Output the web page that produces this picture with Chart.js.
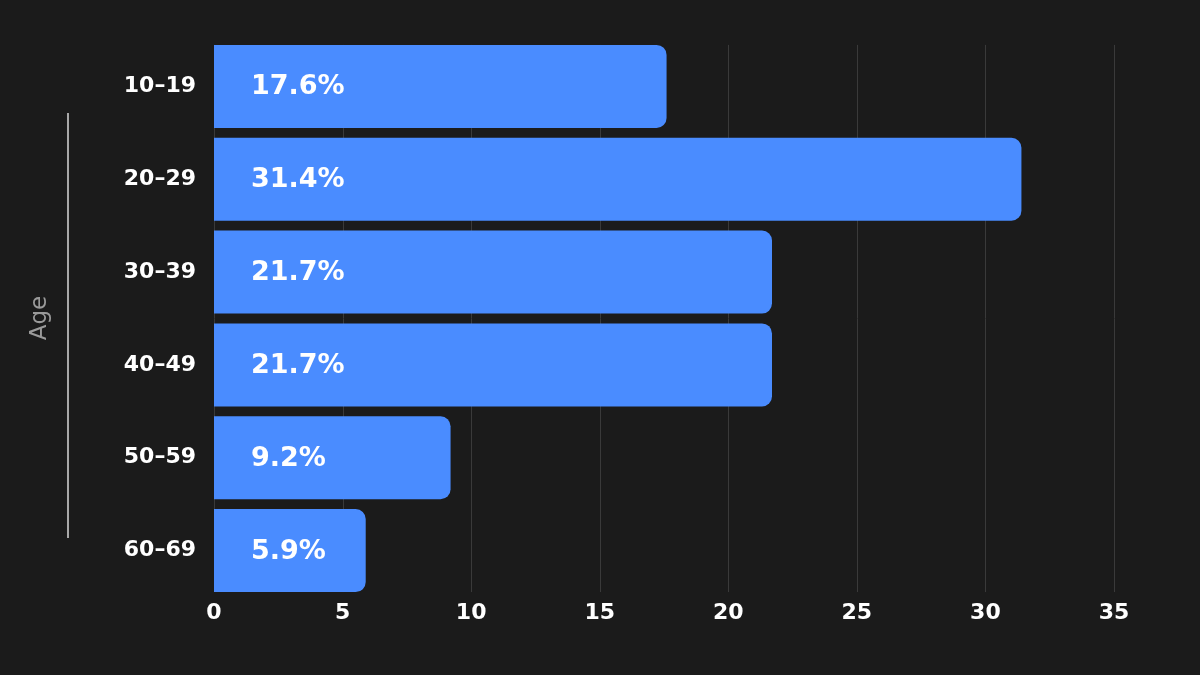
<!DOCTYPE html>
<html>
<head>
<meta charset="utf-8">
<script src="https://cdn.jsdelivr.net/npm/chart.js@4"></script>
<style>
  html, body { margin: 0; padding: 0; background: #1b1b1b; }
  #wrap { width: 1200px; height: 675px; }
</style>
</head>
<body>
<div id="wrap"><canvas id="age-canvas" width="1200" height="675"></canvas></div>
<script>
const ageGroups = ['10–19', '20–29', '30–39', '40–49', '50–59', '60–69']
const shares = [17.6, 31.4, 21.7, 21.7, 9.2, 5.9]
const xTicks = [0, 5, 10, 15, 20, 25, 30, 35]

const FONT = '"DejaVu Sans", sans-serif'

// vertical grid lines that stop at the first and last bar edge
const gridLines = {
  id: 'gridLines',
  beforeDatasetsDraw(chart) {
    const ctx = chart.ctx
    const area = chart.chartArea
    const x = chart.scales.x
    const meta = chart.getDatasetMeta(0)
    const top = meta.data[0].y - meta.data[0].height / 2
    const last = meta.data[meta.data.length - 1]
    const bottom = last.y + last.height / 2
    ctx.save()
    ctx.strokeStyle = '#3a3a3a'
    ctx.lineWidth = 1
    xTicks.forEach(v => {
      const px = Math.round(x.getPixelForValue(v)) + 0.5
      ctx.beginPath()
      ctx.moveTo(px, top)
      ctx.lineTo(px, bottom)
      ctx.stroke()
    })
    ctx.restore()
  }
}

// percent text inside each bar + the "Age" title with its line
const barLabels = {
  id: 'barLabels',
  afterDatasetsDraw(chart) {
    const ctx = chart.ctx
    const meta = chart.getDatasetMeta(0)
    ctx.save()
    ctx.fillStyle = '#ffffff'
    ctx.font = '700 27px ' + FONT
    ctx.textAlign = 'left'
    ctx.textBaseline = 'middle'
    meta.data.forEach((bar, i) => {
      ctx.fillText(shares[i].toFixed(1) + '%', bar.base + 37, bar.y + 1)
    })
    ctx.restore()
  },
  afterDraw(chart) {
    const ctx = chart.ctx
    const area = chart.chartArea
    ctx.save()
    ctx.strokeStyle = '#a8a8a8'
    ctx.lineWidth = 2
    ctx.beginPath()
    ctx.moveTo(68, 113)
    ctx.lineTo(68, 538)
    ctx.stroke()
    ctx.translate(40, 318)
    ctx.rotate(-Math.PI / 2)
    ctx.fillStyle = '#9a9a9a'
    ctx.font = '400 23px ' + FONT
    ctx.textAlign = 'center'
    ctx.textBaseline = 'middle'
    ctx.fillText('Age', 0, 0)
    ctx.restore()
  }
}

new Chart(document.getElementById('age-canvas'), {
  type: 'bar',
  data: {
    labels: ageGroups,
    datasets: [{
      data: shares,
      backgroundColor: '#4a8cff',
      borderRadius: { topLeft: 0, bottomLeft: 0, topRight: 10, bottomRight: 10 },
      borderSkipped: false,
      categoryPercentage: 0.894,
      barPercentage: 1.0
    }]
  },
  options: {
    indexAxis: 'y',
    responsive: false,
    animation: false,
    layout: { padding: { top: 40, right: 86, left: 0, bottom: 0 } },
    plugins: {
      legend: { display: false },
      tooltip: { enabled: false }
    },
    scales: {
      x: {
        min: 0,
        max: 35,
        afterBuildTicks: (scale) => { scale.ticks = xTicks.map(v => ({ value: v })) },
        afterFit: (scale) => { scale.height = 78 },
        grid: { display: false, drawTicks: false },
        border: { display: false },
        ticks: {
          color: '#ffffff',
          font: { family: FONT, size: 22, weight: '700' },
          padding: 3
        }
      },
      y: {
        afterFit: (scale) => { scale.width = 214 },
        grid: { display: false, drawTicks: false },
        border: { display: false },
        ticks: {
          color: '#ffffff',
          font: { family: FONT, size: 22, weight: '700' },
          padding: 18
        }
      }
    }
  },
  plugins: [gridLines, barLabels]
})
</script>
</body>
</html>
